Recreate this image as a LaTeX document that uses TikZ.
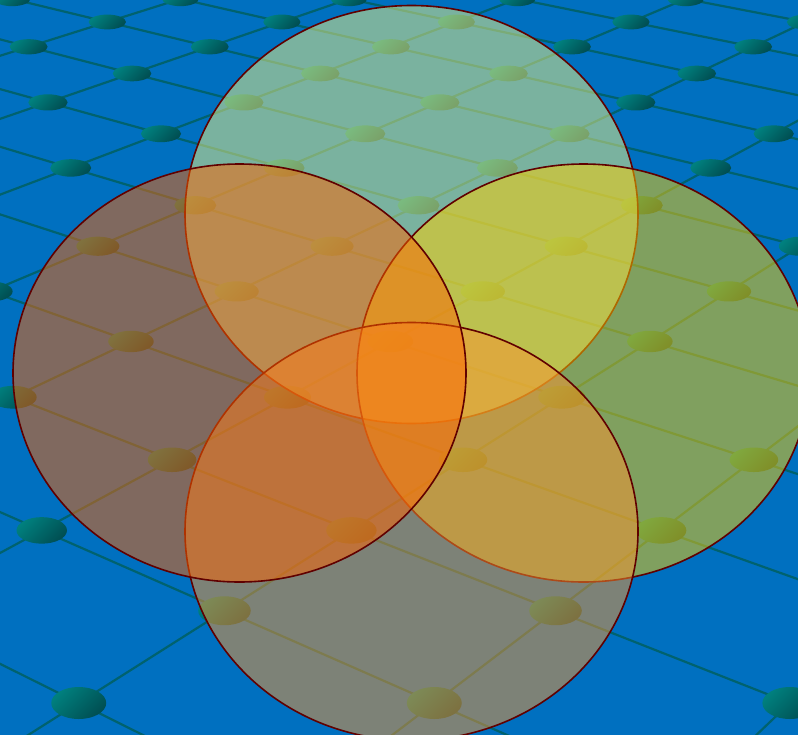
\documentclass[tikz,border=0pt]{standalone}
\usetikzlibrary{shapes.geometric}
\definecolor{bgblue}{RGB}{0,112,192}
\definecolor{gridline}{RGB}{0,98,110}
\definecolor{balltop}{RGB}{0,128,126}
\definecolor{ballbot}{RGB}{0,78,82}
\definecolor{ringline}{RGB}{96,0,0}
\definecolor{topfill}{RGB}{245,245,128}
\definecolor{rightfill}{RGB}{255,208,0}
\definecolor{bottomfill}{RGB}{250,148,48}
\definecolor{leftfill}{RGB}{255,100,0}
\begin{document}
\begin{tikzpicture}[x=1bp, y=-1bp,
  ball/.style={ellipse, draw=none, inner sep=0pt, top color=balltop, bottom color=ballbot, shading angle=45},
  link/.style={gridline, line width=2.2bp},
  venn/.style={draw=ringline, line width=1.6bp, fill opacity=0.5, draw opacity=1}]
  \useasboundingbox (0,0) rectangle (798,735);
  \fill[bgblue] (0,0) rectangle (798,735);

  \begin{scope}
  \clip (0,0) rectangle (798,735);
  % punti della rete in prospettiva
  \foreach \k in {0,...,17} {
    \foreach \m in {0,...,15} {
      \pgfmathsetmacro\px{(26.08*\k+48*\m-454.65)/(29.5-\k)*100}
      \pgfmathsetmacro\py{180.59/(29.5-\k)*100-634.7}
      \coordinate (g-\k-\m) at (\px,\py);
    }
  }
  % collegamenti
  \foreach \k [evaluate=\k as \kn using int(\k+1)] in {0,...,16} {
    \foreach \m in {0,...,15} {
      \draw[link] (g-\k-\m) -- (g-\kn-\m);
    }
    \foreach \m [evaluate=\m as \mp using int(\m-1)] in {1,...,15} {
      \draw[link] (g-\k-\m) -- (g-\kn-\mp);
    }
  }
  % nodi
  \foreach \k in {0,...,17} {
    \foreach \m in {0,...,15} {
      \pgfmathsetmacro\px{(26.08*\k+48*\m-454.65)/(29.5-\k)*100}
      \pgfmathtruncatemacro\seen{and(\px>-60,\px<860)}
      \ifnum\seen=1
        \pgfmathsetmacro\bw{20+472/(29.5-\k)}
        \pgfmathsetmacro\bh{9.3+4140/(29.5-\k)/(29.5-\k)}
        \node[ball, minimum width=\bw bp, minimum height=\bh bp] (n-\k-\m) at (g-\k-\m) {};
      \fi
    }
  }

  % quattro cerchi
  \draw[venn, fill=topfill]    (411.5,214.5) ellipse [x radius=226.5bp, y radius=209bp];
  \draw[venn, fill=rightfill]  (583.5,373)   ellipse [x radius=226.5bp, y radius=209bp];
  \draw[venn, fill=bottomfill] (411.5,531.5) ellipse [x radius=226.5bp, y radius=209bp];
  \draw[venn, fill=leftfill]   (239.5,373)   ellipse [x radius=226.5bp, y radius=209bp];
  \end{scope}
\end{tikzpicture}
\end{document}
